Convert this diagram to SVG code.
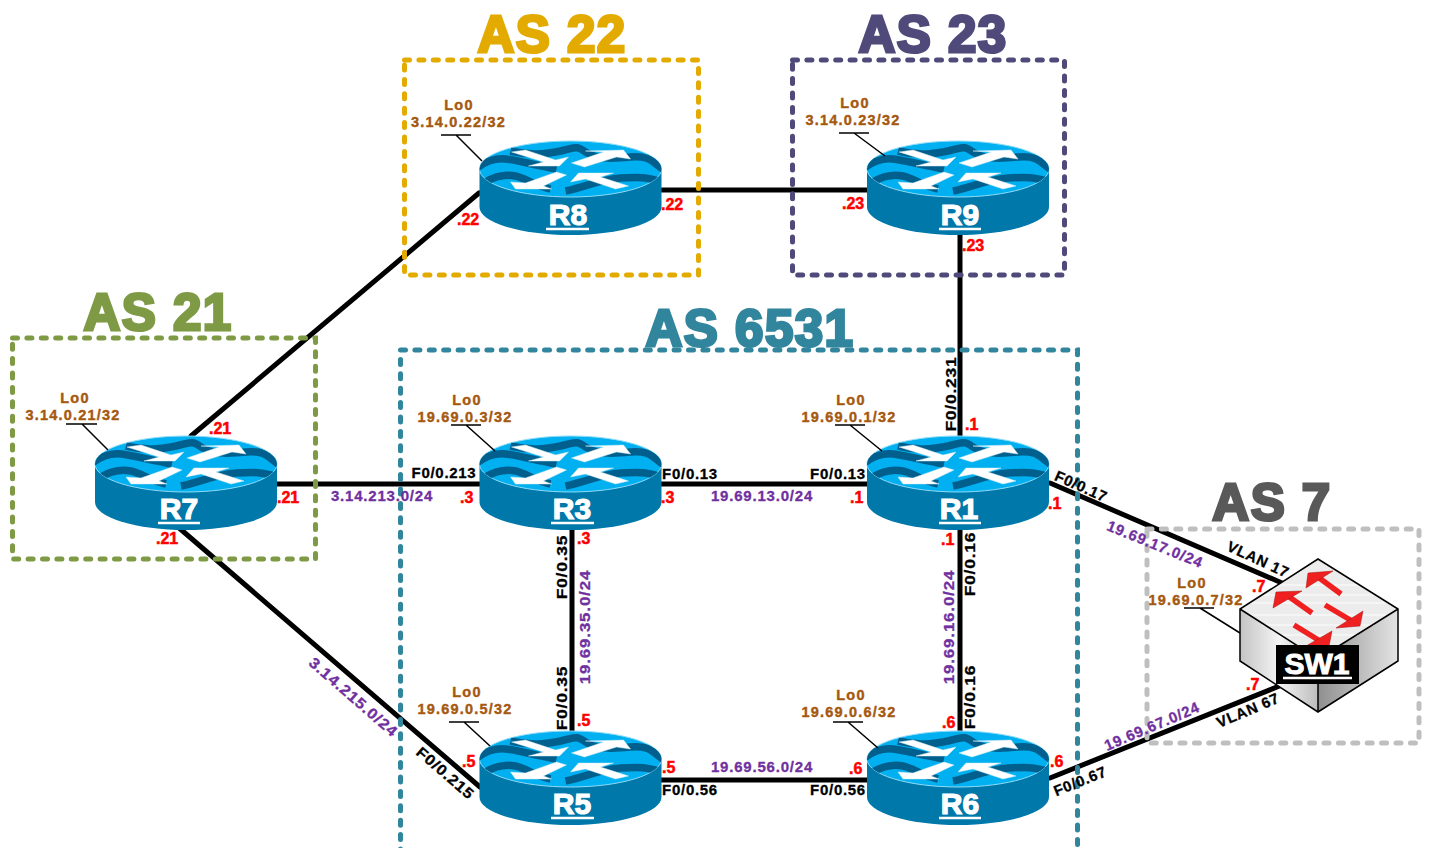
<svg xmlns="http://www.w3.org/2000/svg" width="1431" height="848" viewBox="0 0 1431 848">
<style>
text{font-family:"Liberation Sans",Arial,sans-serif;font-weight:700}
.link{stroke:#000;stroke-width:5;fill:none;stroke-linecap:round}
.box{fill:none;stroke-width:5;stroke-dasharray:5 9.400;stroke-linecap:round}
.title{font-size:51px;text-anchor:middle;stroke-width:3px;letter-spacing:1.500px}
.lo{font-size:14.500px;fill:#a5590f;text-anchor:middle;letter-spacing:1.200px;stroke:#a5590f;stroke-width:.4px}
.call{stroke:#000;fill:none;stroke-width:1.500}
.red{font-size:16px;fill:#f00;stroke:#f00;stroke-width:.5px}
.blk{font-size:15px;fill:#000;text-anchor:middle;letter-spacing:.7px;stroke:#000;stroke-width:.3px}
.pur{font-size:15px;fill:#7030a0;text-anchor:middle;letter-spacing:.8px;stroke:#7030a0;stroke-width:.3px}
.name{font-size:30px;fill:#fff;text-anchor:middle;stroke:#fff;stroke-width:1.200px}
.ul{stroke:#fff;stroke-width:2.500}
.wave{fill:none;stroke:#005f8c;stroke-width:7.500}
.arrow{fill:#f02020;stroke:#a01010;stroke-width:.5}
.ar{stroke:#f02020;stroke-width:5.500}
</style>
<defs>
<clipPath id="top"><ellipse cx="0" cy="0" rx="91" ry="28"/></clipPath>
<linearGradient id="sl" x1="0" x2="1" y1="0" y2="0"><stop offset="0" stop-color="#c4c4c4"/><stop offset=".5" stop-color="#f4f4f4"/><stop offset="1" stop-color="#bdbdbd"/></linearGradient>
<linearGradient id="sr" x1="0" x2="1" y1="0" y2="0"><stop offset="0" stop-color="#8f8f8f"/><stop offset="1" stop-color="#e4e4e4"/></linearGradient>
<symbol id="router" overflow="visible">
<path d="M-91,0V38A91,28 0 0 0 91,38V0Z" fill="#0078aa"/>
<ellipse cx="0" cy="0" rx="91" ry="28" fill="#00b0f0" stroke="#8fdcf8" stroke-width="1"/>
<g clip-path="url(#top)">
<path class="wave" d="M-95,0C-85,-8 -75,-11 -65,-10S-40,-5 -14,0"/>
<path class="wave" d="M-85,13C-75,7 -65,5 -55,7S-35,17 -20,20"/>
<path class="wave" d="M-60,-18C-40,-13 -25,-15 -10,-18S5,-24 15,-17S40,-10 60,-12S82,-6 95,2"/>
<path class="wave" d="M-5,22C15,18 30,10 50,9S75,8 92,13"/>
</g>
<g fill="#fff" stroke="#cfe8f2" stroke-width=".5">
<polygon points="-59,-17 -45,-19 -15,-9 -2,-12 -11,-3 -42,-3 -27,-7"/>
<polygon points="1,-6 33,-17 15,-18 53,-19 60,-10 46,-12 14,-2"/>
<polygon points="-60,13 -45,14 -14,3 -4,6 -27,17 -19,20 -55,20"/>
<polygon points="0,13 8,4 43,4 30,8 58,17 45,20 15,10"/>
</g>
</symbol>
</defs>

<g id="connectors">
<path class="link" d="M662,190H867"/>
<path class="link" d="M191,436L479,193"/>
<path class="link" d="M275,484H479"/>
<path class="link" d="M178,527L480,787"/>
<path class="link" d="M661,484H867"/>
<path class="link" d="M572,530V732"/>
<path class="link" d="M960,530V732"/>
<path class="link" d="M960,235V437"/>
<path class="link" d="M661,780H867"/>
<path class="link" d="M1050,483L1282,583"/>
<path class="link" d="M1050,778L1282,685"/>
</g>

<g id="as-boxes">
<rect class="box" x="404.500" y="60" width="294" height="215" stroke="#e3aa00"/>
<rect class="box" x="792.500" y="60" width="272" height="215" stroke="#4f4a7a"/>
<rect class="box" x="12.500" y="338" width="303" height="221" stroke="#7f9a45"/>
<path class="box" d="M400.500,854V350H1077.500V854" stroke="#31859c"/>
<rect class="box" x="1147" y="529" width="272" height="214" stroke="#bfbfbf"/>
</g>

<g id="titles">
<text class="title" x="552" y="52" fill="#e3aa00" stroke="#e3aa00">AS 22</text>
<text class="title" x="933" y="52" fill="#4f4a7a" stroke="#4f4a7a">AS 23</text>
<text class="title" x="158" y="330" fill="#7f9a45" stroke="#7f9a45">AS 21</text>
<text class="title" x="750" y="346" fill="#31859c" stroke="#31859c">AS 6531</text>
<text class="title" x="1272" y="520" fill="#595959" stroke="#595959">AS 7</text>
</g>

<g id="R8"><use href="#router" x="570.500" y="169"/><text class="name" x="568" y="225">R8</text><path class="ul" d="M546,229H589"/>
<path class="call" d="M441,135H471M456,135L482,161"/><text class="lo" x="459" y="110">Lo0</text><text class="lo" x="458.500" y="127">3.14.0.22/32</text></g>
<g id="R9"><use href="#router" x="958" y="169"/><text class="name" x="960" y="225">R9</text><path class="ul" d="M939,229H981"/>
<path class="call" d="M839,133H869M854,133L885,156"/><text class="lo" x="855" y="108">Lo0</text><text class="lo" x="853" y="125">3.14.0.23/32</text></g>
<g id="R7"><use href="#router" x="186" y="464"/><text class="name" x="179" y="519">R7</text><path class="ul" d="M158,523H200"/>
<path class="call" d="M66,424H97M82,424L108,450"/><text class="lo" x="75" y="403">Lo0</text><text class="lo" x="73" y="420">3.14.0.21/32</text></g>
<g id="R3"><use href="#router" x="570.500" y="464"/><text class="name" x="572" y="519">R3</text><path class="ul" d="M551,523H594"/>
<path class="call" d="M451,425H481M466,425L495,451"/><text class="lo" x="467" y="405">Lo0</text><text class="lo" x="465" y="422">19.69.0.3/32</text></g>
<g id="R1"><use href="#router" x="958" y="464"/><text class="name" x="959" y="519">R1</text><path class="ul" d="M939,523H981"/>
<path class="call" d="M835,425H865M850,425L882,451"/><text class="lo" x="851" y="405">Lo0</text><text class="lo" x="849" y="422">19.69.0.1/32</text></g>
<g id="R5"><use href="#router" x="570.500" y="759"/><text class="name" x="572" y="814">R5</text><path class="ul" d="M551,818H594"/>
<path class="call" d="M449,722H479M464,722L490,746"/><text class="lo" x="467" y="697">Lo0</text><text class="lo" x="465" y="714">19.69.0.5/32</text></g>
<g id="R6"><use href="#router" x="958" y="759"/><text class="name" x="960" y="814">R6</text><path class="ul" d="M939,818H981"/>
<path class="call" d="M833,722H863M848,722L878,748"/><text class="lo" x="851" y="700">Lo0</text><text class="lo" x="849" y="717">19.69.0.6/32</text></g>

<g id="SW1">
<path class="call" d="M1184,608H1214M1200,608L1240,633"/>
<polygon points="1240,609 1318,659 1318,712 1240,661" fill="url(#sl)"/>
<polygon points="1318,659 1398,609 1398,661 1318,712" fill="url(#sr)"/>
<polygon points="1318,559 1398,609 1318,659 1240,609" fill="#ececec"/>
<path d="M1278,585H1358M1262,595H1374M1250,603H1386M1250,615H1386M1262,625H1374M1278,635H1358" stroke="#f8f8f8" stroke-width="1.500" fill="none"/>
<path d="M1318,559L1398,609V661L1318,712L1240,661V609ZM1240,609L1318,659L1398,609M1318,659V712" fill="none" stroke="#000" stroke-width="1.500"/>
<path class="ar" d="M1341,594L1318,577"/><polygon class="arrow" points="1333,571 1308,573 1306,588"/>
<path class="ar" d="M1312,613L1288,596"/><polygon class="arrow" points="1302,591 1276,592 1273,608"/>
<path class="ar" d="M1325,605L1352,621"/><polygon class="arrow" points="1363,611 1360,626 1336,628"/>
<path class="ar" d="M1294,625L1320,641"/><polygon class="arrow" points="1332,631 1329,646 1306,646"/>
<rect x="1276" y="645" width="83" height="39" fill="#000"/>
<text x="1317" y="674" font-size="30" fill="#fff" text-anchor="middle" stroke="#fff" stroke-width="1">SW1</text>
<path class="ul" d="M1283,678H1352"/>
<text class="lo" x="1192" y="588">Lo0</text><text class="lo" x="1196" y="605">19.69.0.7/32</text>
</g>

<g id="ip-labels">
<text class="red" x="457" y="225">.22</text><text class="red" x="661" y="210">.22</text>
<text class="red" x="842" y="209">.23</text><text class="red" x="962" y="251">.23</text>
<text class="red" x="209" y="434">.21</text><text class="red" x="277" y="503">.21</text><text class="red" x="156" y="544">.21</text>
<text class="red" x="460" y="503">.3</text><text class="red" x="661" y="503">.3</text><text class="red" x="577" y="544">.3</text>
<text class="red" x="965" y="430">.1</text><text class="red" x="850" y="503">.1</text><text class="red" x="1048" y="509">.1</text><text class="red" x="941" y="545">.1</text>
<text class="red" x="577" y="726">.5</text><text class="red" x="462" y="767">.5</text><text class="red" x="662" y="773">.5</text>
<text class="red" x="942" y="728">.6</text><text class="red" x="849" y="774">.6</text><text class="red" x="1050" y="767">.6</text>
<text class="red" x="1252" y="592">.7</text><text class="red" x="1246" y="690">.7</text>
<text class="blk" x="444" y="478">F0/0.213</text>
<text class="blk" x="690" y="479">F0/0.13</text><text class="blk" x="838" y="479">F0/0.13</text>
<text class="blk" x="690" y="795">F0/0.56</text><text class="blk" x="838" y="795">F0/0.56</text>
<text class="blk" transform="translate(956,394) rotate(-90) scale(1.160,1)">F0/0.231</text>
<text class="blk" transform="translate(567,567) rotate(-90) scale(1.160,1)">F0/0.35</text>
<text class="blk" transform="translate(567,698) rotate(-90) scale(1.160,1)">F0/0.35</text>
<text class="blk" transform="translate(975,564) rotate(-90) scale(1.160,1)">F0/0.16</text>
<text class="blk" transform="translate(975,697) rotate(-90) scale(1.160,1)">F0/0.16</text>
<text class="blk" transform="translate(442,777) rotate(41) scale(1.100,1)">F0/0.215</text>
<text class="blk" transform="translate(1082,786) rotate(-22)">F0/0.67</text>
<text class="blk" transform="translate(1079,491) rotate(24)">F0/0.17</text>
<text class="blk" transform="translate(1256,564) rotate(25)">VLAN 17</text>
<text class="blk" transform="translate(1250,715) rotate(-23)">VLAN 67</text>
<text class="pur" x="382" y="501">3.14.213.0/24</text>
<text class="pur" x="762" y="501">19.69.13.0/24</text>
<text class="pur" x="762" y="772">19.69.56.0/24</text>
<text class="pur" transform="translate(590,627) rotate(-90) scale(1.120,1)">19.69.35.0/24</text>
<text class="pur" transform="translate(954,627) rotate(-90) scale(1.120,1)">19.69.16.0/24</text>
<text class="pur" transform="translate(350,701) rotate(41) scale(1.100,1)">3.14.215.0/24</text>
<text class="pur" transform="translate(1153,549) rotate(22)">19.69.17.0/24</text>
<text class="pur" transform="translate(1154,731) rotate(-23)">19.69.67.0/24</text>
</g>
</svg>
